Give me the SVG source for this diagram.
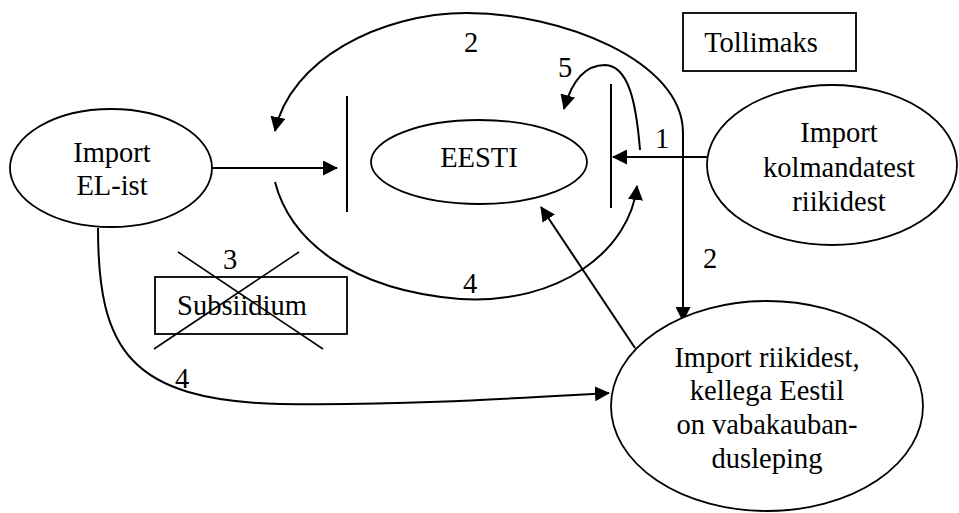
<svg xmlns="http://www.w3.org/2000/svg" width="959" height="513" viewBox="0 0 959 513" font-family="Liberation Serif, Times New Roman, serif">
<style>
text{font-size:28.5px;fill:#000;text-anchor:middle}
.shape{fill:#fff;stroke:#000;stroke-width:1.8}
.bar{stroke:#000;stroke-width:2;fill:none}
.conn{stroke:#000;stroke-width:2;fill:none}
.cross{stroke:#000;stroke-width:1.6;fill:none}
</style>
<defs>
<marker id="ah" viewBox="0 0 15 15" refX="14" refY="7.5" markerWidth="15" markerHeight="15" markerUnits="userSpaceOnUse" orient="auto-start-reverse">
<path d="M0,0 L15,7.5 L0,15 z" fill="#000"/>
</marker>
</defs>
<rect width="959" height="513" fill="#fff"/>

<g id="connectors">
<path class="conn" d="M202,168 L337,168" marker-end="url(#ah)"/>
<path class="conn" d="M707,157 L613,157" marker-end="url(#ah)"/>
<path class="conn" d="M683,321 L683,133 C683,60 560,13 467,13 C380,13 290,60 275,131" marker-start="url(#ah)" marker-end="url(#ah)"/>
<path class="conn" d="M640,150 C636,100 628,66 605,65 C585,65 572,80 564,109" marker-end="url(#ah)"/>
<path class="conn" d="M275,182 C290,240 350,290 460,299 C560,305 630,250 637,186" marker-end="url(#ah)"/>
<path class="conn" d="M635,348 L541,207" marker-end="url(#ah)"/>
<path class="conn" d="M98,228 C98,350 130,400 280,404 C400,406 520,398 609,393" marker-end="url(#ah)"/>
<text x="471" y="52">2</text>
<text x="565" y="77">5</text>
<text x="662" y="148">1</text>
<text x="710" y="268">2</text>
<text x="470" y="293">4</text>
<text x="182" y="388">4</text>
</g>

<g id="barrier-left"><line class="bar" x1="347" y1="96" x2="347" y2="212"/></g>
<g id="barrier-right"><line class="bar" x1="611" y1="84" x2="611" y2="208"/></g>

<g id="import-el">
<ellipse class="shape" cx="111" cy="168" rx="101" ry="59"/>
<text x="112" y="162">Import</text>
<text x="112" y="195">EL-ist</text>
</g>

<g id="eesti">
<ellipse class="shape" cx="479" cy="162" rx="108" ry="42"/>
<text x="479" y="167">EESTI</text>
</g>

<g id="import-kolmandatest">
<ellipse class="shape" cx="832" cy="165" rx="125" ry="80"/>
<text x="839" y="142">Import</text>
<text x="839" y="177">kolmandatest</text>
<text x="839" y="211">riikidest</text>
</g>

<g id="import-vabakaubandus">
<ellipse class="shape" cx="767" cy="406" rx="156" ry="105"/>
<text x="767" y="367">Import riikidest,</text>
<text x="767" y="400">kellega Eestil</text>
<text x="767" y="434">on vabakauban-</text>
<text x="767" y="468">dusleping</text>
</g>

<g id="tollimaks">
<rect class="shape" x="683" y="13" width="173" height="58"/>
<text x="761" y="52">Tollimaks</text>
</g>

<g id="subsiidium">
<rect class="shape" x="155" y="277" width="192" height="57"/>
<text x="242" y="315">Subsiidium</text>
<line class="cross" x1="178" y1="252" x2="323" y2="349"/>
<line class="cross" x1="299" y1="252" x2="154" y2="349"/>
<text x="230" y="269">3</text>
</g>
</svg>
